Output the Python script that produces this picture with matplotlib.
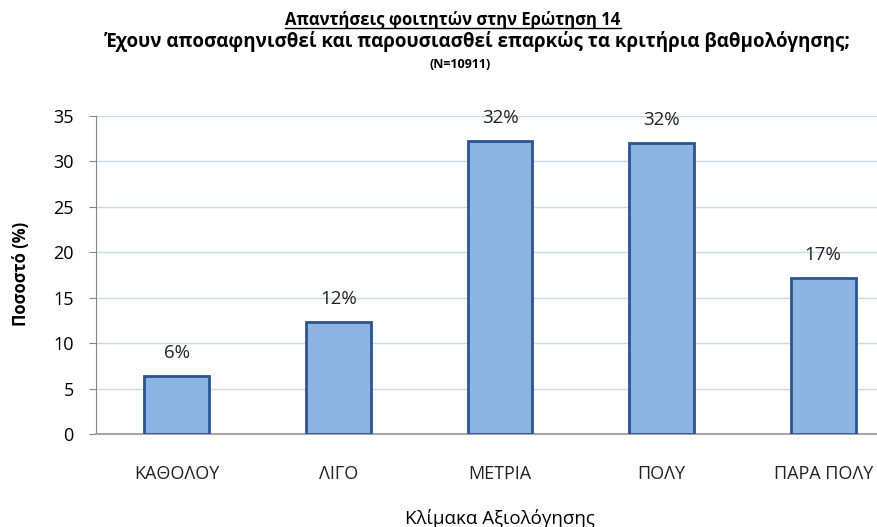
import matplotlib
matplotlib.use("Agg")
import matplotlib.pyplot as plt
from matplotlib.lines import Line2D

plt.rcParams['font.family'] = ['Open Sans', 'DejaVu Sans']

# δεδομένα
categories = ['ΚΑΘΟΛΟΥ', 'ΛΙΓΟ', 'ΜΕΤΡΙΑ', 'ΠΟΛΥ', 'ΠΑΡΑ ΠΟΛΥ']
values = [6.4, 12.3, 32.2, 32.0, 17.2]
labels = ['6%', '12%', '32%', '32%', '17%']
yticks = [0, 5, 10, 15, 20, 25, 30, 35]

W, H = 877, 527
fig = plt.figure(figsize=(W / 100, H / 100), dpi=100)
# plot area runs past the right edge, like the cropped original
ax = fig.add_axes([96 / W, (H - 434) / H, 808 / W, 318 / H])

x = range(len(categories))
ax.bar(x, values, width=0.40, color='#8DB3E2', edgecolor='#2C5491', linewidth=2, zorder=3)
for i, v in enumerate(values):
    ax.annotate(labels[i], (i, v), xytext=(0, 13), textcoords='offset points',
                ha='center', va='baseline', fontsize=13.5, color='#222222')

ax.set_xlim(-0.5, len(categories) - 0.5)
ax.set_ylim(0, 35)
ax.set_yticks(yticks)
ax.set_xticks(list(x))
ax.set_xticklabels([])
ax.tick_params(axis='x', length=0)
ax.tick_params(axis='y', length=5, color='#868686', labelsize=13, pad=11)
ax.yaxis.grid(True, color='#C6D9F1', linewidth=1, zorder=0)
for s in ['top', 'right']:
    ax.spines[s].set_visible(False)
ax.spines['left'].set_color('#868686')
ax.spines['bottom'].set_color('#A6A6A6')
ax.spines['bottom'].set_linewidth(1.5)

# ετικέτες κατηγοριών
for i, c in enumerate(categories):
    ax.text(i, (434 - 479) / 318, c, transform=ax.get_xaxis_transform(),
            ha='center', va='baseline', fontsize=13, color='#222222')

fig.text(21 / W, (H - 274) / H, 'Ποσοστό (%)', rotation=90, ha='center', va='center',
         fontsize=12, fontweight='bold')
fig.text(500 / W, (H - 524) / H, 'Κλίμακα Αξιολόγησης', ha='center', va='baseline', fontsize=13.5)

t1 = fig.text(453 / W, (H - 25) / H, 'Απαντήσεις φοιτητών στην Ερώτηση 14', ha='center',
              va='baseline', fontsize=12, fontweight='bold')
fig.text(478 / W, (H - 47) / H, 'Έχουν αποσαφηνισθεί και παρουσιασθεί επαρκώς τα κριτήρια βαθμολόγησης;',
         ha='center', va='baseline', fontsize=13.5, fontweight='bold')
fig.text(460 / W, (H - 68) / H, '(N=10911)', ha='center', va='baseline', fontsize=9, fontweight='bold')

# υπογράμμιση τίτλου
fig.canvas.draw()
bb = t1.get_window_extent().transformed(fig.transFigure.inverted())
uy = (H - 28) / H
fig.add_artist(Line2D([bb.x0, bb.x1], [uy, uy], color='black',
                      linewidth=1.0, transform=fig.transFigure))

fig.savefig('out.png', dpi=100)
